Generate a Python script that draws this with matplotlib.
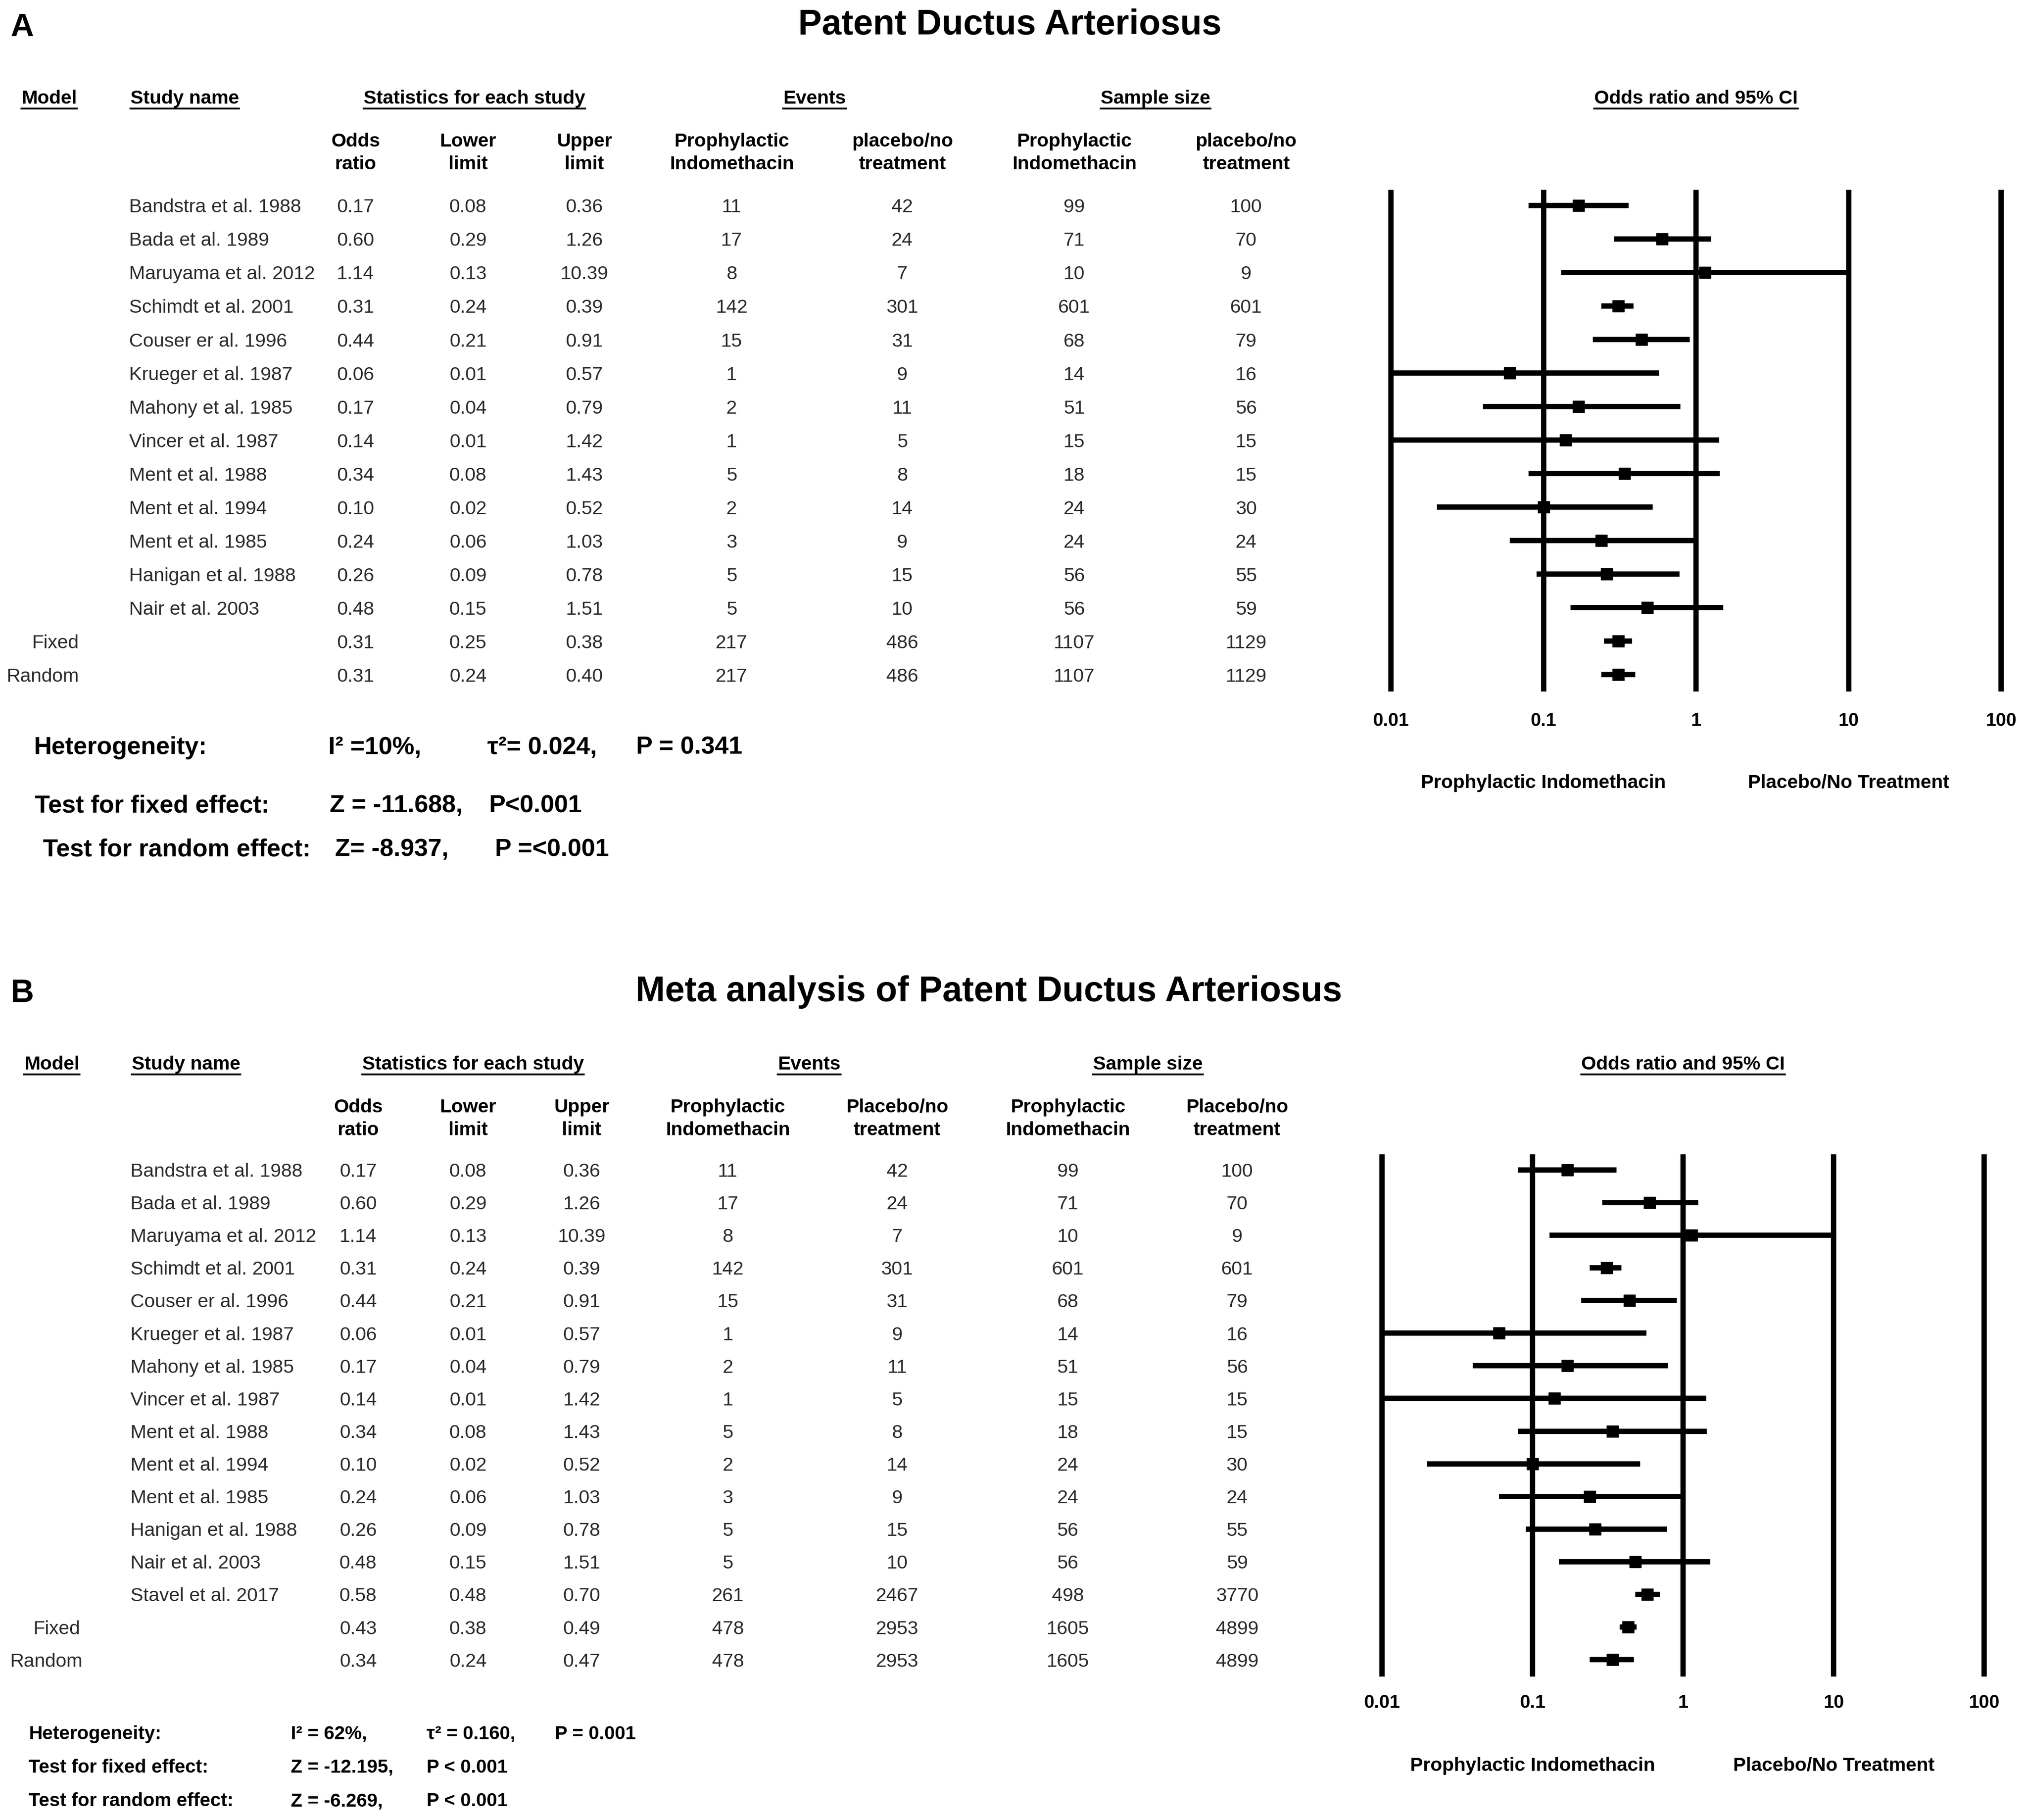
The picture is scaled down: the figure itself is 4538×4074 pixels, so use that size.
import numpy as np
import matplotlib.pyplot as plt
from matplotlib.lines import Line2D
from matplotlib.ticker import NullLocator

plt.rcParams['font.family'] = ['Liberation Sans', 'DejaVu Sans']

# ---------------- data: panel A ----------------
studies_a = ["Bandstra et al. 1988", "Bada et al. 1989", "Maruyama et al. 2012",
             "Schimdt et al. 2001", "Couser er al. 1996", "Krueger et al. 1987",
             "Mahony et al. 1985", "Vincer et al. 1987", "Ment et al. 1988",
             "Ment et al. 1994", "Ment et al. 1985", "Hanigan et al. 1988",
             "Nair et al. 2003", "", ""]
models_a = [""] * 13 + ["Fixed", "Random"]
odds_a = [0.17, 0.60, 1.14, 0.31, 0.44, 0.06, 0.17, 0.14, 0.34, 0.10, 0.24, 0.26, 0.48, 0.31, 0.31]
lower_a = [0.08, 0.29, 0.13, 0.24, 0.21, 0.01, 0.04, 0.01, 0.08, 0.02, 0.06, 0.09, 0.15, 0.25, 0.24]
upper_a = [0.36, 1.26, 10.39, 0.39, 0.91, 0.57, 0.79, 1.42, 1.43, 0.52, 1.03, 0.78, 1.51, 0.38, 0.40]
ev_indo_a = [11, 17, 8, 142, 15, 1, 2, 1, 5, 2, 3, 5, 5, 217, 217]
ev_plac_a = [42, 24, 7, 301, 31, 9, 11, 5, 8, 14, 9, 15, 10, 486, 486]
n_indo_a = [99, 71, 10, 601, 68, 14, 51, 15, 18, 24, 24, 56, 56, 1107, 1107]
n_plac_a = [100, 70, 9, 601, 79, 16, 56, 15, 15, 30, 24, 55, 59, 1129, 1129]
subheads_a = ["Odds\nratio", "Lower\nlimit", "Upper\nlimit", "Prophylactic\nIndomethacin",
              "placebo/no\ntreatment", "Prophylactic\nIndomethacin", "placebo/no\ntreatment"]
stats_a = [["Heterogeneity:", "I² =10%,", "τ²= 0.024,", "P = 0.341"],
           ["Test for fixed effect:", "Z = -11.688,", "P<0.001"],
           ["Test for random effect:", "Z= -8.937,", "P =<0.001"]]

# ---------------- data: panel B ----------------
studies_b = studies_a[:13] + ["Stavel et al. 2017", "", ""]
models_b = [""] * 14 + ["Fixed", "Random"]
odds_b = odds_a[:13] + [0.58, 0.43, 0.34]
lower_b = lower_a[:13] + [0.48, 0.38, 0.24]
upper_b = upper_a[:13] + [0.70, 0.49, 0.47]
ev_indo_b = ev_indo_a[:13] + [261, 478, 478]
ev_plac_b = ev_plac_a[:13] + [2467, 2953, 2953]
n_indo_b = n_indo_a[:13] + [498, 1605, 1605]
n_plac_b = n_plac_a[:13] + [3770, 4899, 4899]
subheads_b = ["Odds\nratio", "Lower\nlimit", "Upper\nlimit", "Prophylactic\nIndomethacin",
              "Placebo/no\ntreatment", "Prophylactic\nIndomethacin", "Placebo/no\ntreatment"]
stats_b = [["Heterogeneity:", "I² = 62%,", "τ² = 0.160,", "P = 0.001"],
           ["Test for fixed effect:", "Z = -12.195,", "P < 0.001"],
           ["Test for random effect:", "Z = -6.269,", "P < 0.001"]]

headers = ["Model", "Study name", "Statistics for each study", "Events", "Sample size"]
forest_header = "Odds ratio and 95% CI"
ticks = [0.01, 0.1, 1, 10, 100]
tick_labels = ["0.01", "0.1", "1", "10", "100"]
side_labels = ["Prophylactic Indomethacin", "Placebo/No Treatment"]

# layout is in reference pixel units (1568 x 1408), converted below
W, H = 1568.0, 1408.0
DY = 1.5   # text nudge so glyphs sit on the row centre
fig = plt.figure(figsize=(45.38, 40.74), dpi=100)
ov = fig.add_axes([0, 0, 1, 1])
ov.set_xlim(0, W)
ov.set_ylim(H, 0)
ov.axis('off')

underlined = []
BODY = 31
VALCOL = '#2b2b2b'


def fmt(v):
    return f"{v:.2f}" if isinstance(v, float) else str(v)


def draw_panel(letter, title, lay, studies, models, cols, subheads, stats,
               odds, lower, upper):
    ov.text(8, lay['letter_y'] + DY, letter, fontsize=52, fontweight='bold', va='center', ha='left')
    ov.text(lay['title_x'], lay['title_y'] + DY, title, fontsize=57, fontweight='bold',
            va='center', ha='center')
    for s, x in zip(headers + [forest_header], lay['head_x']):
        t = ov.text(x, lay['head_y'] + DY, s, fontsize=BODY, fontweight='bold',
                    va='center', ha='center')
        underlined.append(t)
    for s, x in zip(subheads, lay['col_x']):
        ov.text(x, lay['sub_y'] + DY, s, fontsize=BODY, fontweight='bold', va='center',
                ha='center', linespacing=1.35)

    n = len(studies)
    ys = [lay['row0'] + i * lay['step'] + DY for i in range(n)]
    for i in range(n):
        if models[i]:
            ov.text(lay['model_x'][models[i]], ys[i], models[i], fontsize=BODY,
                    color=VALCOL, va='center', ha='center')
        if studies[i]:
            ov.text(lay['name_x'], ys[i], studies[i], fontsize=BODY, color=VALCOL,
                    va='center', ha='left')
        for col, x in zip(cols, lay['col_x']):
            ov.text(x, ys[i], fmt(col[i]), fontsize=BODY, color=VALCOL,
                    va='center', ha='center')

    # statistics block under the table
    for r, (row, y) in enumerate(zip(stats, lay['stat_y'])):
        xs = [lay['stat_x0'][r]] + lay['stat_x'][r]
        for s, x in zip(row, xs):
            ov.text(x, y + DY, s, fontsize=lay['stat_fs'], fontweight='bold',
                    va='center', ha='left')

    # forest plot
    x0, x1 = lay['fx']
    dec = (x1 - x0) / 4.0
    left = x0 - 0.1 * dec
    right = x1 + 0.1 * dec
    top, bot = lay['fy']
    ax = fig.add_axes([left / W, 1 - bot / H, (right - left) / W, (bot - top) / H])
    ax.set_xscale('log')
    ax.set_xlim(10 ** -2.1, 10 ** 2.1)
    idx = np.arange(n)
    ax.set_ylim((bot - lay['row0']) / lay['step'], (top - lay['row0']) / lay['step'])
    for v in ticks:
        ax.axvline(v, color='black', lw=8.5, zorder=1)
    ax.hlines(idx, lower, upper, color='black', lw=8.5, zorder=2)
    ax.plot(odds, idx, 's', color='black', ms=19, zorder=3)
    ax.set_xticks(ticks)
    ax.set_xticklabels(tick_labels, fontsize=30, fontweight='bold')
    ax.xaxis.set_minor_locator(NullLocator())
    ax.tick_params(axis='x', length=0, pad=lay['tick_pad'])
    ax.set_yticks([])
    for sp in ax.spines.values():
        sp.set_visible(False)
    ax.patch.set_alpha(0)
    for s, v in zip(side_labels, [0.1, 10]):
        ax.text(v, lay['side_y'], s, transform=ax.get_xaxis_transform(), fontsize=31,
                fontweight='bold', ha='center', va='center')


lay_a = dict(letter_y=20, title_x=781, title_y=18, head_y=75, sub_y=117,
             head_x=[38, 143, 367, 630, 894, 1312],
             col_x=[275, 362, 452, 566, 698, 831, 964],
             row0=159, step=25.93, name_x=100, model_x={"Fixed": 43, "Random": 33},
             stat_y=[577, 622, 656], stat_x0=[26, 27, 33],
             stat_x=[[254, 377, 492], [255, 378], [259, 383]], stat_fs=40,
             fx=(1076, 1548), fy=(147, 535), tick_pad=33, side_y=-0.183)
lay_b = dict(letter_y=767, title_x=765, title_y=766, head_y=822, sub_y=864,
             head_x=[40, 144, 366, 626, 888, 1302],
             col_x=[277, 362, 450, 563, 694, 826, 957],
             row0=905, step=25.27, name_x=101, model_x={"Fixed": 44, "Random": 36},
             stat_y=[1340, 1366, 1392], stat_x0=[22, 22, 22],
             stat_x=[[225, 330, 429], [225, 330], [225, 330]], stat_fs=30.5,
             fx=(1069, 1535), fy=(893, 1297), tick_pad=28, side_y=-0.171)

draw_panel("A", "Patent Ductus Arteriosus", lay_a, studies_a, models_a,
           [odds_a, lower_a, upper_a, ev_indo_a, ev_plac_a, n_indo_a, n_plac_a],
           subheads_a, stats_a, odds_a, lower_a, upper_a)
draw_panel("B", "Meta analysis of Patent Ductus Arteriosus", lay_b, studies_b, models_b,
           [odds_b, lower_b, upper_b, ev_indo_b, ev_plac_b, n_indo_b, n_plac_b],
           subheads_b, stats_b, odds_b, lower_b, upper_b)

# underline the column headers
renderer = fig.canvas.get_renderer()
fw, fh = fig.bbox.width, fig.bbox.height
for t in underlined:
    bb = t.get_window_extent(renderer)
    y = (bb.y0 - 2) / fh
    fig.add_artist(Line2D([bb.x0 / fw, bb.x1 / fw], [y, y], color='black', lw=3,
                          transform=fig.transFigure))

fig.savefig("out.png", dpi=100, facecolor='white')
